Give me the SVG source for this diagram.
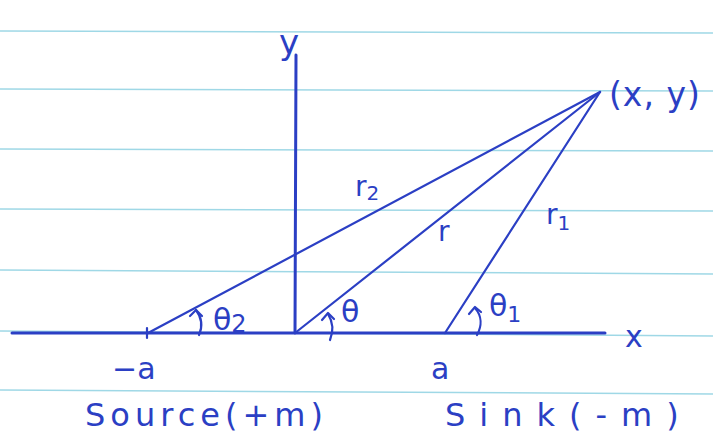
<svg xmlns="http://www.w3.org/2000/svg" width="713" height="441" viewBox="0 0 713 441">
<style>
.rule{stroke:#9fd8e6;stroke-width:1.5;fill:none}
.ink{stroke:#2b3fc4;fill:none;stroke-linecap:round;stroke-linejoin:round}
.ax{stroke-width:3}
.ln{stroke-width:2.2}
.t{font-family:"DejaVu Sans","Noto Sans",sans-serif;fill:#2b3fc4}
</style>
<rect width="713" height="441" fill="#ffffff"/>
<g id="ruling">
<line class="rule" x1="0" y1="31" x2="713" y2="33"/>
<line class="rule" x1="0" y1="89" x2="713" y2="91"/>
<line class="rule" x1="0" y1="149" x2="713" y2="151"/>
<line class="rule" x1="0" y1="209" x2="713" y2="211"/>
<line class="rule" x1="0" y1="270" x2="713" y2="274"/>
<line class="rule" x1="0" y1="331" x2="713" y2="336"/>
<line class="rule" x1="0" y1="390" x2="713" y2="394"/>
</g>
<g id="connectors">
<line class="ink ax" x1="12" y1="333" x2="605" y2="333"/>
<line class="ink ax" x1="296" y1="55" x2="295" y2="333"/>
<line class="ink ln" x1="148" y1="333" x2="600" y2="92"/>
<line class="ink ln" x1="295" y1="333" x2="600" y2="92"/>
<line class="ink ln" x1="445" y1="333" x2="600" y2="92"/>
<line class="ink ln" x1="147" y1="328" x2="147" y2="338"/>
<path class="ink ln" d="M199 335 C203 326 202 318 196 310"/>
<path class="ink ln" d="M190 316 L196 310 L202 316"/>
<path class="ink ln" d="M330 340 C334 330 333 322 328 314"/>
<path class="ink ln" d="M322 320 L328 313 L334 319"/>
<path class="ink ln" d="M477 335 C482 326 482 316 475 308"/>
<path class="ink ln" d="M469 314 L475 307 L481 312"/>
</g>
<g id="axis-y"><text class="t" x="279" y="54" font-size="34">y</text></g>
<g id="axis-x"><text class="t" x="625" y="347" font-size="30">x</text></g>
<g id="point"><text class="t" x="609" y="106" font-size="33" letter-spacing="1">(x, y)</text></g>
<g id="label-r2"><text class="t" x="355" y="196" font-size="28">r<tspan font-size="20" dy="4">2</tspan></text></g>
<g id="label-r"><text class="t" x="438" y="241" font-size="28">r</text></g>
<g id="label-r1"><text class="t" x="546" y="224" font-size="28">r<tspan font-size="20" dy="6">1</tspan></text></g>
<g id="theta2"><text class="t" x="213" y="330" font-size="30">θ<tspan font-size="24" dy="2">2</tspan></text></g>
<g id="theta"><text class="t" x="341" y="322" font-size="30">θ</text></g>
<g id="theta1"><text class="t" x="489" y="316" font-size="30">θ<tspan font-size="22" dy="6">1</tspan></text></g>
<g id="label-minus-a"><text class="t" x="112" y="379" font-size="30">−a</text></g>
<g id="label-a"><text class="t" x="431" y="379" font-size="30">a</text></g>
<g id="source"><text class="t" x="85" y="426" font-size="32" letter-spacing="5">Source(+m)</text></g>
<g id="sink"><text class="t" x="445" y="426" font-size="32" letter-spacing="14">Sink(-m)</text></g>
</svg>
